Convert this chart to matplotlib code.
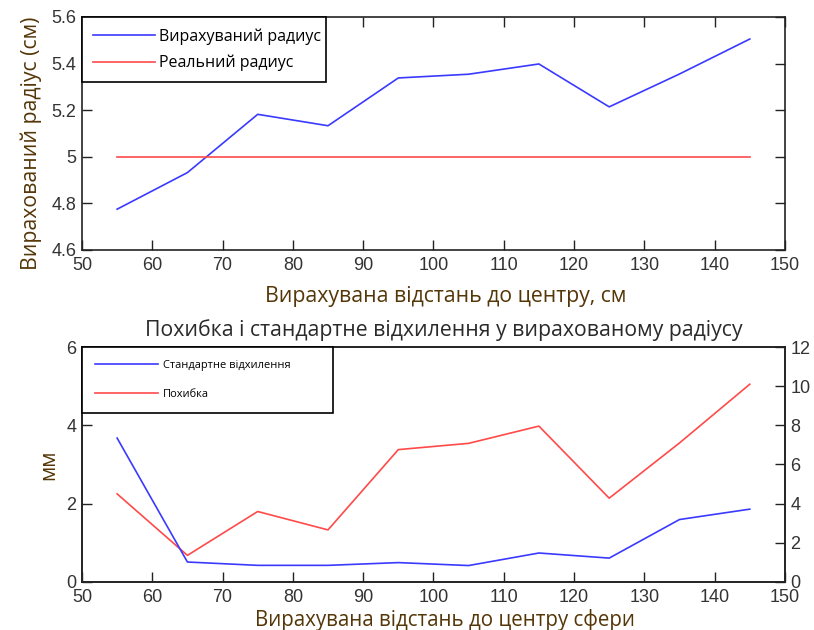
import matplotlib
matplotlib.use("Agg")
import matplotlib.pyplot as plt

# відстань до центру сфери, см
dist = [55, 65, 75, 85, 95, 105, 115, 125, 135, 145]
# вирахований радіус, см
r_calc = [4.775, 4.932, 5.182, 5.133, 5.338, 5.354, 5.398, 5.214, 5.355, 5.505]
r_real = [5, 5, 5, 5, 5, 5, 5, 5, 5, 5]
# похибка, мм
err_mm = [2.25, 0.68, 1.8, 1.33, 3.38, 3.54, 3.98, 2.14, 3.55, 5.05]
# стандартне відхилення
std_dev = [7.35, 1.02, 0.85, 0.85, 0.99, 0.84, 1.48, 1.22, 3.19, 3.72]

lbl_font = "Open Sans"
tick_font = "Liberation Sans"
lbl_col = "#553608"
tick_col = "#333333"
blue = "#3a3aff"
red = "#ff4a4a"


def style_ticks(ax):
    ax.tick_params(direction="in", length=7, width=1, colors="#222222",
                   labelcolor=tick_col, labelsize=13, pad=4)
    ax.tick_params(axis="x", pad=5)
    for lab in ax.get_xticklabels() + ax.get_yticklabels():
        lab.set_fontfamily(tick_font)
    for s in ax.spines.values():
        s.set_linewidth(1.2)
        s.set_color("#222222")


fig = plt.figure(figsize=(8.14, 6.3), dpi=100)

# верхній графік: радіус
ax1 = fig.add_axes([0.1007, 0.6032, 0.8636, 0.370])
ax1.plot(dist, r_calc, color=blue, lw=1.2, label="Вирахуваний радиус")
ax1.plot(dist, r_real, color=red, lw=1.2, label="Реальний радиус")
ax1.set_xlim(50, 150)
ax1.set_ylim(4.6, 5.6)
ax1.set_xticks(range(50, 151, 10))
ax1.set_yticks([4.6, 4.8, 5.0, 5.2, 5.4, 5.6])
ax1.set_yticklabels(["4.6", "4.8", "5", "5.2", "5.4", "5.6"])
ax1.tick_params(top=True, right=True)
style_ticks(ax1)
ax1.set_xlabel("Вирахувана відстань до центру, см", fontfamily=lbl_font,
               fontsize=15.3, color=lbl_col, labelpad=9)
ax1.xaxis.label.set_x(0.517)
ax1.set_ylabel("Вирахований радіус (см)", fontfamily=lbl_font,
               fontsize=15.3, color=lbl_col, labelpad=7)
ax1.yaxis.label.set_y(0.457)
leg1 = ax1.legend(loc="upper left", bbox_to_anchor=(0, 1, 0.347, 0),
                  mode="expand", borderaxespad=0, fancybox=False,
                  edgecolor="black", framealpha=1, handlelength=3.9,
                  handletextpad=0.2, labelspacing=0.64, borderpad=0.7,
                  prop={"family": lbl_font, "size": 11.5})
leg1.get_frame().set_linewidth(1.2)

# нижній графік: похибка і стандартне відхилення
ax2 = fig.add_axes([0.1007, 0.0762, 0.8636, 0.373])
ax3 = ax2.twinx()
l_err, = ax2.plot(dist, err_mm, color=red, lw=1.2)
l_std, = ax3.plot(dist, std_dev, color=blue, lw=1.2)
ax2.set_xlim(50, 150)
ax2.set_ylim(0, 6)
ax3.set_ylim(0, 12)
ax2.set_xticks(range(50, 151, 10))
ax2.set_yticks([0, 2, 4, 6])
ax3.set_yticks([0, 2, 4, 6, 8, 10, 12])
style_ticks(ax2)
style_ticks(ax3)
ax2.set_xlabel("Вирахувана відстань до центру сфери", fontfamily=lbl_font,
               fontsize=14.8, color=lbl_col, labelpad=2)
ax2.xaxis.label.set_x(0.516)
ax2.set_ylabel("мм", fontfamily=lbl_font, fontsize=15, color=lbl_col,
               labelpad=5)
ax2.set_title("Похибка і стандартне відхилення у вирахованому радіусу",
              fontfamily=lbl_font, fontsize=15.3, color="#2a2a2a", pad=8,
              x=0.514)
leg2 = ax3.legend([l_std, l_err], ["Стандартне відхилення", "Похибка"],
                  loc="upper left", bbox_to_anchor=(0, 1, 0.357, 0),
                  mode="expand", borderaxespad=0, fancybox=False,
                  edgecolor="black", framealpha=1, handlelength=5.7,
                  handletextpad=0.45, labelspacing=1.65, borderpad=1.2,
                  prop={"family": lbl_font, "size": 7.9})
leg2.get_frame().set_linewidth(1.2)

fig.savefig("out.png", dpi=100)
